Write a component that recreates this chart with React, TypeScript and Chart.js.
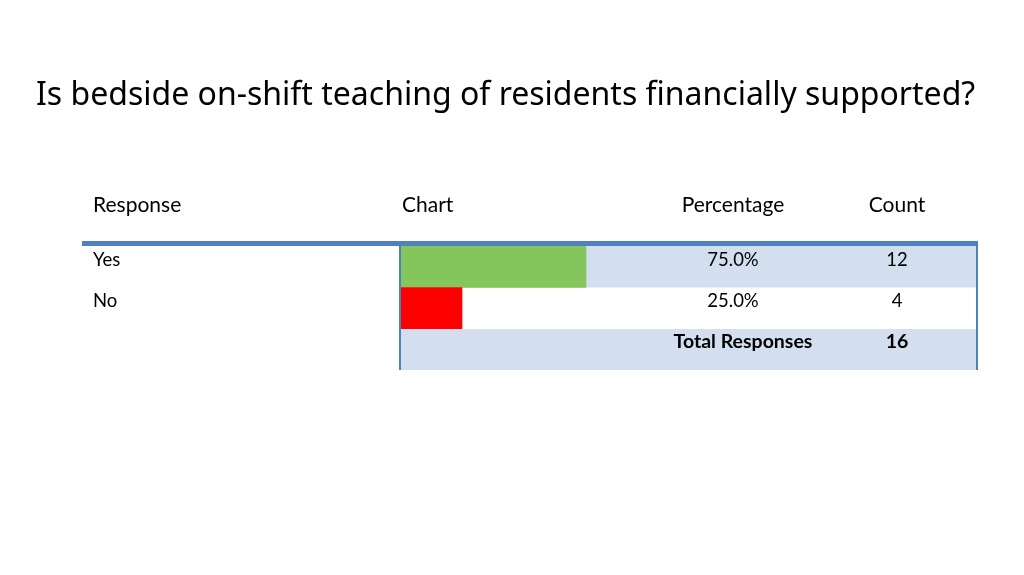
import { useEffect, useRef } from "react";
import { Chart, registerables } from "chart.js";

Chart.register(...registerables);

const TITLE = "Is bedside on-shift teaching of residents financially supported?";
const HEADERS = ["Response", "Chart", "Percentage", "Count"];
const RESPONSES = ["Yes", "No"];
const PERCENTAGES = [75.0, 25.0];
const COUNTS = [12, 4];
const BAR_COLORS = ["#84C55C", "#FF0000"];
const TOTAL_LABEL = "Total Responses";
const TOTAL = 16;

const BLUE = "#4F81BD";
const BAND = "#D3DFEE";
const TEXT_FONT = "Lato, 'Open Sans', sans-serif";

// table drawn around the bar chart (chart area = the "Chart" column)
const tablePlugin = {
  id: "table",
  beforeDatasetsDraw(chart: any) {
    const { ctx, chartArea } = chart;
    const y = chart.scales.y;
    const band = (chartArea.bottom - chartArea.top) / RESPONSES.length;
    const right = 977;
    ctx.save();
    // row shading
    RESPONSES.forEach((_, i) => {
      if (i % 2 === 0) {
        const c = y.getPixelForValue(i);
        ctx.fillStyle = BAND;
        ctx.fillRect(chartArea.left, c - band / 2, right - chartArea.left, band);
      }
    });
    const totalTop = chartArea.bottom;
    ctx.fillStyle = BAND;
    ctx.fillRect(chartArea.left, totalTop, right - chartArea.left, 41);
    ctx.restore();
  },
  afterDraw(chart: any) {
    const { ctx, chartArea } = chart;
    const y = chart.scales.y;
    const right = 977;
    const totalTop = chartArea.bottom;
    ctx.save();
    // rules
    ctx.fillStyle = BLUE;
    ctx.fillRect(82, chartArea.top - 5, 896, 5);
    ctx.fillRect(chartArea.left - 1, chartArea.top, 2, totalTop + 41 - chartArea.top);
    ctx.fillRect(right - 1, chartArea.top, 2, totalTop + 41 - chartArea.top);

    // title
    ctx.fillStyle = "#000";
    ctx.textBaseline = "middle";
    ctx.textAlign = "left";
    ctx.font = "32px 'Noto Sans', sans-serif";
    ctx.fillText(TITLE, 36, 96);

    // headers
    ctx.font = `21px ${TEXT_FONT}`;
    ctx.fillText(HEADERS[0], 93, 205);
    ctx.fillText(HEADERS[1], 402, 205);
    ctx.textAlign = "center";
    ctx.fillText(HEADERS[2], 733, 205);
    ctx.fillText(HEADERS[3], 897, 205);

    // rows
    ctx.font = `18.5px ${TEXT_FONT}`;
    const band = (chartArea.bottom - chartArea.top) / RESPONSES.length;
    RESPONSES.forEach((r, i) => {
      const ty = y.getPixelForValue(i) - band / 2 + 14;
      ctx.textAlign = "left";
      ctx.fillText(r, 93, ty);
      ctx.textAlign = "center";
      ctx.fillText(PERCENTAGES[i].toFixed(1) + "%", 733, ty);
      ctx.fillText(String(COUNTS[i]), 897, ty);
    });
    ctx.font = `bold 19.5px ${TEXT_FONT}`;
    ctx.textAlign = "center";
    ctx.fillText(TOTAL_LABEL, 743, totalTop + 13);
    ctx.fillText(String(TOTAL), 897, totalTop + 13);
    ctx.restore();
  },
};

export default function App() {
  const canvasRef = useRef<HTMLCanvasElement>(null);

  useEffect(() => {
    document.body.style.margin = "0";
    if (!canvasRef.current) return;
    const chart = new Chart(canvasRef.current, {
      type: "bar",
      data: {
        labels: RESPONSES,
        datasets: [
          {
            data: PERCENTAGES,
            backgroundColor: BAR_COLORS,
            borderWidth: 0,
            barPercentage: 1,
            categoryPercentage: 1,
          },
        ],
      },
      options: {
        indexAxis: "y",
        animation: false,
        responsive: false,
        devicePixelRatio: 1,
        layout: { padding: { left: 400, right: 376, top: 246, bottom: 246 } },
        scales: {
          x: { display: false, min: 0, max: 100 },
          y: { display: false },
        },
        plugins: { legend: { display: false }, tooltip: { enabled: false } },
      },
      plugins: [tablePlugin],
    });
    return () => chart.destroy();
  }, []);

  return (
    <div style={{ width: 1024, height: 575, background: "#fff" }}>
      <canvas ref={canvasRef} width={1024} height={575} />
    </div>
  );
}
